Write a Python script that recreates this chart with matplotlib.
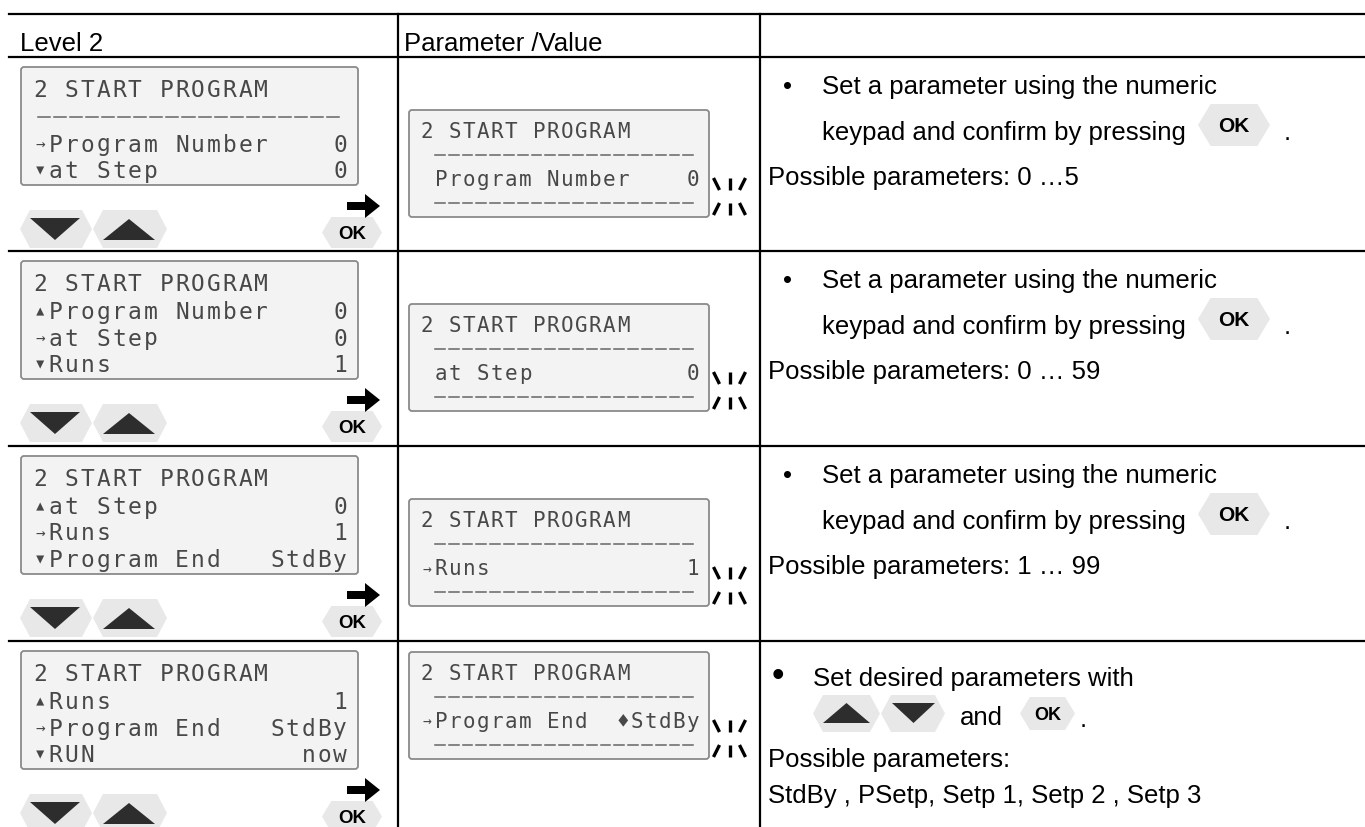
import matplotlib
matplotlib.use("Agg")
import matplotlib.pyplot as plt
from matplotlib.patches import Polygon, FancyBboxPatch, FancyArrow

# ---- table content ----
header = ["Level 2", "Parameter /Value"]
screen_title = "2 START PROGRAM"

# lines of the level-2 screen under the title: (marker, label, value), None = dashed rule
level_rows = [
    [None, ("→", "Program Number", "0"), ("▼", "at Step", "0")],
    [("▲", "Program Number", "0"), ("→", "at Step", "0"), ("▼", "Runs", "1")],
    [("▲", "at Step", "0"), ("→", "Runs", "1"), ("▼", "Program End", "StdBy")],
    [("▲", "Runs", "1"), ("→", "Program End", "StdBy"), ("▼", "RUN", "now")],
]
# edited line of the parameter screen
param_rows = [
    ("", "Program Number", "0"),
    ("", "at Step", "0"),
    ("→", "Runs", "1"),
    ("→", "Program End", "♦StdBy"),
]
param_ranges = ["0 …5", "0 … 59", "1 … 99"]
set_text = "Set a parameter using the numeric"
press_text = "keypad and confirm by pressing"
possible_text = "Possible parameters:"
last_set_text = "Set desired parameters with"
end_options = "StdBy , PSetp, Setp 1, Setp 2 , Setp 3"

W, H = 1365, 827
row_tops = [57, 251, 446, 641]

fig = plt.figure(figsize=(W / 100, H / 100), dpi=100)
ax = fig.add_axes([0, 0, 1, 1])
ax.set_xlim(0, W)
ax.set_ylim(H, 0)
ax.axis("off")

SANS = "Liberation Sans"
MONO = ["DejaVu Sans Mono", "DejaVu Sans"]
INK = "#484848"
KEY = "#e8e8e8"
FS = 18.5


def hexkey(x0, x1, y0, y1, cut=10):
    ym = (y0 + y1) / 2
    pts = [(x0, ym), (x0 + cut, y0), (x1 - cut, y0), (x1, ym), (x1 - cut, y1), (x0 + cut, y1)]
    ax.add_patch(Polygon(pts, closed=True, fc=KEY, ec="none", zorder=2))


def tri(x0, x1, y_base, y_tip):
    ax.add_patch(Polygon([(x0, y_base), (x1, y_base), ((x0 + x1) / 2, y_tip)],
                         closed=True, fc="#2d2d2d", ec="none", zorder=3))


def ok_key(x0, x1, y0, y1, size):
    hexkey(x0, x1, y0, y1, cut=(y1 - y0) * 0.3)
    cap = size * 100 / 72 * 0.716
    ax.text((x0 + x1) / 2, (y0 + y1) / 2 + cap / 2, "OK", ha="center", va="baseline",
            fontsize=size, fontweight="bold", family=SANS, zorder=4)


def lcd_box(x0, y0, w, h):
    ax.add_patch(FancyBboxPatch((x0, y0), w, h, boxstyle="round,pad=0,rounding_size=3",
                                fc="#f3f3f3", ec="#8a8a8a", lw=1.3, zorder=1))


def lcd_chars(x0, pitch, base, col, s, size):
    for i, ch in enumerate(s):
        if ch != " ":
            ax.text(x0 + pitch * (col + i + 0.5), base, ch, ha="center", va="baseline",
                    fontsize=size, family=MONO, color=INK, zorder=3)


def lcd_dashes(x0, pitch, y, n=19):
    for i in range(n):
        ax.plot([x0 + i * pitch, x0 + i * pitch + pitch - 4], [y, y], color="#666666", lw=1.1, zorder=3)


def lcd_line(x0, pitch, base, line, size):
    marker, label, value = line
    xm = x0 + pitch * 0.5
    if marker == "→":
        ax.text(xm, base - 6, "→", ha="center", va="center", fontsize=size * 0.7, family=MONO, color=INK)
    elif marker == "▼":
        ax.text(xm, base - 8, "▾", ha="center", va="center", fontsize=size * 0.9, family=MONO, color=INK)
    elif marker == "▲":
        ax.text(xm, base - 8, "▴", ha="center", va="center", fontsize=size * 0.9, family=MONO, color=INK)
    lcd_chars(x0, pitch, base, 1, label, size)
    lcd_chars(x0, pitch, base, 20 - len(value), value, size)


def blink(cx, ytop):
    kw = dict(color="black", lw=2.4, solid_capstyle="butt", zorder=3)
    ax.plot([cx - 16, cx - 10], [ytop, ytop + 12], **kw)
    ax.plot([cx, cx], [ytop, ytop + 12], **kw)
    ax.plot([cx + 16, cx + 10], [ytop, ytop + 12], **kw)
    ax.plot([cx - 16, cx - 10], [ytop + 37, ytop + 25], **kw)
    ax.plot([cx, cx], [ytop + 25, ytop + 37], **kw)
    ax.plot([cx + 16, cx + 10], [ytop + 37, ytop + 25], **kw)


# ---- grid ----
for y in [14] + row_tops:
    ax.plot([9, W], [y, y], color="black", lw=1.6)
for x in [398, 760]:
    ax.plot([x, x], [14, H], color="black", lw=1.6)

ax.text(20, 51, header[0], fontsize=FS, family=SANS, va="baseline")
ax.text(404, 51, header[1], fontsize=FS, family=SANS, va="baseline")

for r, T in enumerate(row_tops):
    # level-2 screen
    top = T + 10
    lcd_box(21, top, 337, 118)
    lcd_chars(32, 15.8, top + 30, 0, screen_title, 16.5)
    for k, line in enumerate(level_rows[r]):
        base = top + 58 + 26.5 * k
        if line is None:
            lcd_dashes(38, 16.05, top + 50)
        else:
            lcd_line(32, 15.8, base, line, 16.5)

    # keys below
    hexkey(20, 92, T + 153, T + 191)
    tri(30, 80, T + 161, T + 183)
    hexkey(93, 167, T + 153, T + 191)
    tri(103, 155, T + 183, T + 162)
    ok_key(322, 382, T + 160, T + 191, 13.4)
    ax.add_patch(FancyArrow(347, T + 149, 33, 0, width=8, head_width=24, head_length=15,
                            length_includes_head=True, fc="black", ec="none", zorder=5))

    # parameter screen
    ptop = T + 53 if r < 3 else T + 11
    lcd_box(409, ptop, 300, 107)
    lcd_chars(420, 14, ptop + 28, 0, screen_title, 15)
    lcd_dashes(435, 13.8, ptop + 45)
    lcd_line(420, 14, ptop + 76, param_rows[r], 15)
    lcd_dashes(435, 13.8, ptop + 93)
    blink(729.5, ptop + 68)

    # description
    if r < 3:
        ax.text(787, T + 37, "•", ha="center", va="baseline", fontsize=FS, family=SANS)
        ax.text(822, T + 37, set_text, fontsize=FS, family=SANS, va="baseline")
        ax.text(822, T + 83, press_text, fontsize=FS, family=SANS, va="baseline")
        ok_key(1198, 1270, T + 47, T + 89, 15)
        ax.text(1284, T + 83, ".", fontsize=FS, family=SANS, va="baseline")
        ax.text(768, T + 128, possible_text + " " + param_ranges[r], fontsize=FS, family=SANS, va="baseline")
    else:
        ax.text(778, T + 45, "•", ha="center", va="baseline", fontsize=26, family=SANS)
        ax.text(813, T + 45, last_set_text, fontsize=FS, family=SANS, va="baseline")
        hexkey(813, 880, T + 54, T + 91)
        tri(823, 870, T + 82, T + 62)
        hexkey(881, 945, T + 54, T + 91)
        tri(892, 935, T + 62, T + 82)
        ax.text(960, T + 84, "and", fontsize=FS, family=SANS, va="baseline")
        ok_key(1020, 1075, T + 56, T + 89, 13)
        ax.text(1080, T + 86, ".", fontsize=FS, family=SANS, va="baseline")
        ax.text(768, T + 126, possible_text, fontsize=FS, family=SANS, va="baseline")
        ax.text(768, T + 162, end_options, fontsize=FS, family=SANS, va="baseline")

fig.savefig("out.png", dpi=100)
